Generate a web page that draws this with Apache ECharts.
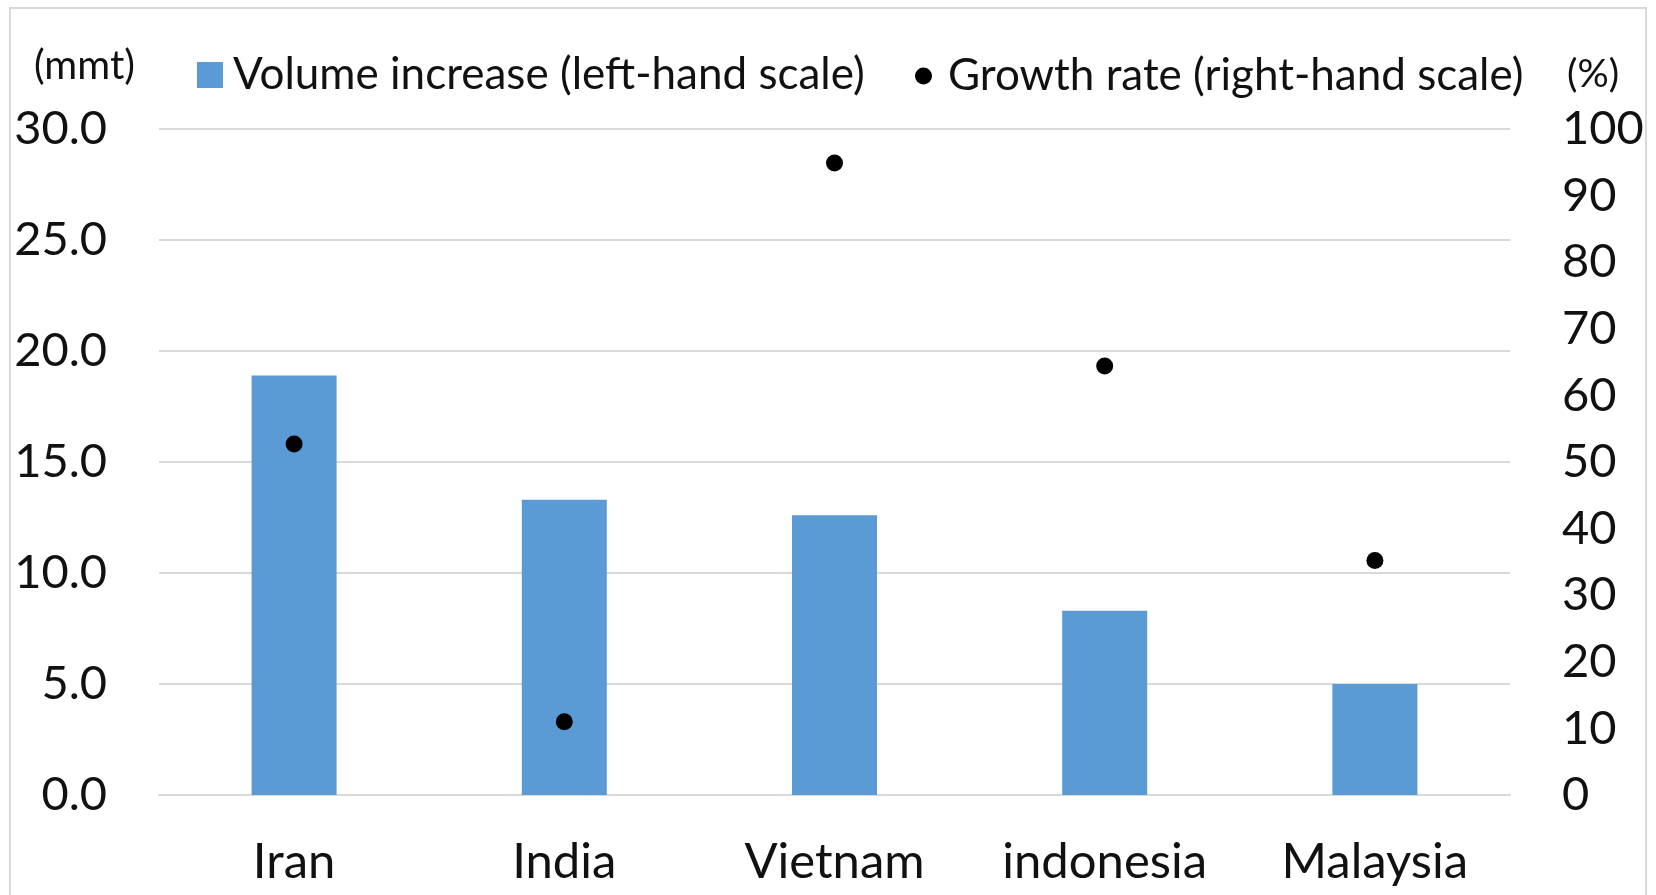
<!DOCTYPE html>
<html>
<head>
<meta charset="utf-8">
<script src="https://cdn.jsdelivr.net/npm/echarts@6/dist/echarts.min.js"></script>
<style>
html,body{margin:0;padding:0;background:#fff;}
#chart{width:1656px;height:895px;}
</style>
</head>
<body>
<div id="chart"></div>
<script>
var categories = ['Iran', 'India', 'Vietnam', 'indonesia', 'Malaysia'];
var volumeIncrease = [18.9, 13.3, 12.6, 8.3, 5.0];
var growthRate = [52.7, 11.0, 94.9, 64.4, 35.2];
var leftTicks = { min: 0, max: 30, interval: 5 };
var rightTicks = { min: 0, max: 100, interval: 10 };
var seriesNames = ['Volume increase (left-hand scale)', 'Growth rate (right-hand scale)'];
var unitLeft = '(mmt)';
var unitRight = '(%)';

var FONT = 'Lato';
var TXT = '#111111';
var GRID = '#d9d9d9';

var chart = echarts.init(document.getElementById('chart'));
chart.setOption({
  backgroundColor: '#ffffff',
  animation: false,
  textStyle: { fontFamily: FONT, color: TXT },
  grid: { left: 159, right: 146, top: 129, bottom: 100, containLabel: false },
  legend: [
    {
      data: [{ name: seriesNames[0], icon: 'rect' }],
      left: 197, top: 53,
      itemWidth: 26, itemHeight: 26,
      padding: 0,
      textStyle: { fontFamily: FONT, fontSize: 44, color: TXT, padding: [0, 0, 0, 5] },
      selectedMode: false
    },
    {
      data: [{ name: seriesNames[1], icon: 'circle' }],
      left: 915, top: 54,
      itemWidth: 17, itemHeight: 17,
      padding: 0,
      textStyle: { fontFamily: FONT, fontSize: 44, color: TXT, padding: [0, 0, 0, 11] },
      selectedMode: false
    }
  ],
  xAxis: {
    type: 'category',
    data: categories,
    axisLine: { show: true, lineStyle: { color: GRID, width: 2 } },
    axisTick: { show: false },
    axisLabel: { fontFamily: FONT, fontSize: 49, color: TXT, margin: 43 }
  },
  yAxis: [
    {
      type: 'value',
      min: leftTicks.min, max: leftTicks.max, interval: leftTicks.interval,
      axisLine: { show: false },
      axisTick: { show: false },
      splitLine: { show: true, lineStyle: { color: GRID, width: 2 } },
      axisLabel: {
        fontFamily: FONT, fontSize: 47, color: TXT, margin: 52,
        formatter: function (v) { return v.toFixed(1); }
      }
    },
    {
      type: 'value',
      min: rightTicks.min, max: rightTicks.max, interval: rightTicks.interval,
      axisLine: { show: false },
      axisTick: { show: false },
      splitLine: { show: false },
      axisLabel: { fontFamily: FONT, fontSize: 47, color: TXT, margin: 52 }
    }
  ],
  series: [
    {
      name: seriesNames[0],
      type: 'bar',
      yAxisIndex: 0,
      data: volumeIncrease,
      barWidth: 85,
      itemStyle: { color: '#5B9BD5' }
    },
    {
      name: seriesNames[1],
      type: 'scatter',
      yAxisIndex: 1,
      data: growthRate,
      symbol: 'circle',
      symbolSize: 17,
      itemStyle: { color: '#000000', opacity: 1 }
    }
  ],
  graphic: [
    {
      type: 'rect', silent: true, z: -1,
      shape: { x: 10, y: 8, width: 1636, height: 900 },
      style: { fill: 'none', stroke: GRID, lineWidth: 2 }
    },
    {
      type: 'text', left: 34, top: 46,
      style: { text: unitLeft, fontFamily: FONT, fontSize: 40, fill: TXT }
    },
    {
      type: 'text', left: 1567, top: 55,
      style: { text: unitRight, fontFamily: FONT, fontSize: 39, fill: TXT }
    }
  ]
});
</script>
</body>
</html>
